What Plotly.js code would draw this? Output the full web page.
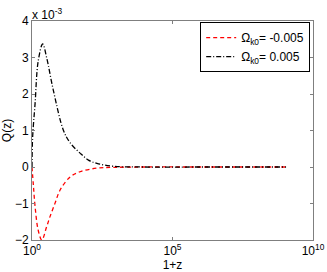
<!DOCTYPE html>
<html><head><meta charset="utf-8">
<script src="https://cdn.plot.ly/plotly-3.0.1.min.js"></script>
<style>body{margin:0;padding:0;background:#fff}#plot{width:327px;height:272px}</style>
</head><body><div id="plot"></div>
<script>
// 1+z sample points
const xRed = [1, 1.12, 1.29, 1.66, 2.24, 3.31, 4.37, 6.61, 10, 22.9, 51.3, 204, 794, 1e4, 1e6, 1.1e9];
const qRed = [0, -0.5, -1.09, -1.73, -2.0, -1.64, -1.36, -0.99, -0.63, -0.27, -0.13, -0.03, -0.01, 0, 0, 0];
const xBlack = [1, 1.05, 1.29, 1.66, 2.4, 3.31, 5.75, 13.2, 22.9, 51.3, 102, 204, 794, 1e4, 1e6, 1.1e9];
const qBlack = [0, 0.8, 1.75, 2.9, 3.37, 3.0, 2.1, 1.0, 0.66, 0.38, 0.19, 0.1, 0.02, 0, 0, 0];
const names = ['Ω<sub>k0</sub>= -0.005', 'Ω<sub>k0</sub>= 0.005'];
const xTicks = [1, 1e5, 1e10];
const xTickText = ['10<sup>0</sup>', '10<sup>5</sup>', '10<sup>10</sup>'];
const yTicks = [-2, -1, 0, 1, 2, 3, 4];

const font = {family: 'Liberation Sans, Arial, sans-serif', size: 12, color: '#000'};
const data = [
  {x: xRed, y: qRed, mode: 'lines', name: names[0], line: {color: '#ff0000', dash: '4px,3px', width: 1.3, shape: 'spline'}},
  {x: xBlack, y: qBlack, mode: 'lines', name: names[1], line: {color: '#000000', dash: '5px,2px,1px,2px', width: 1.3, shape: 'spline'}}
];
const axisCommon = {showline: true, mirror: 'ticks', linecolor: '#7f7f7f', linewidth: 1, ticks: 'inside', ticklen: 3, tickcolor: '#7f7f7f', showgrid: false, zeroline: false, tickfont: font};
const layout = {
  width: 327, height: 272,
  margin: {l: 32, r: 14, t: 21, b: 32},
  paper_bgcolor: '#fff', plot_bgcolor: '#fff',
  font: font,
  showlegend: true,
  legend: {x: 0.99, y: 0.995, xanchor: 'right', yanchor: 'top', bordercolor: '#000', borderwidth: 1, bgcolor: '#fff', font: {family: font.family, size: 12}, tracegroupgap: 0, itemwidth: 30},
  xaxis: Object.assign({}, axisCommon, {type: 'log', range: [0, 10], tickvals: xTicks, ticktext: xTickText, title: {text: '1+z', font: font, standoff: 2}}),
  yaxis: Object.assign({}, axisCommon, {range: [-2, 4], tickvals: yTicks, title: {text: 'Q(z)', font: font, standoff: 6}}),
  annotations: [{xref: 'paper', yref: 'paper', x: 0, y: 1, xanchor: 'left', yanchor: 'bottom', showarrow: false, text: 'x 10<sup>-3</sup>', font: font, xshift: -2, yshift: -3}]
};
Plotly.newPlot('plot', data, layout, {displayModeBar: false, staticPlot: true});
</script></body></html>
